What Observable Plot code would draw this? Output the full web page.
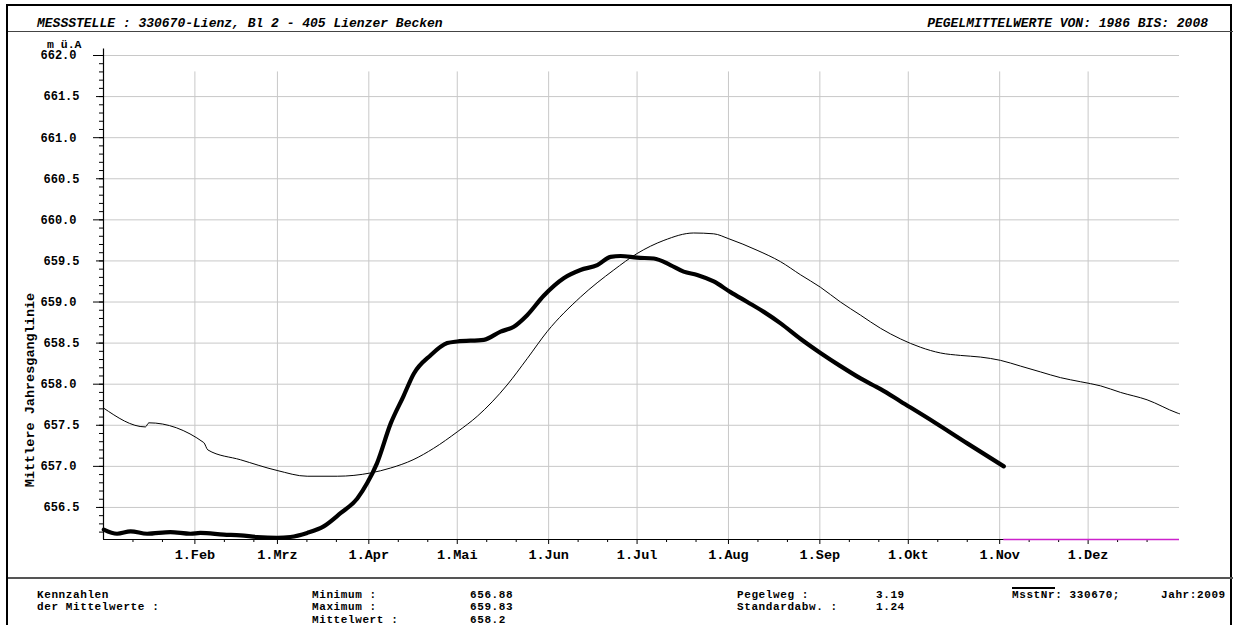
<!DOCTYPE html>
<html>
<head>
<meta charset="utf-8">
<script src="https://cdn.jsdelivr.net/npm/d3@7"></script>
<script src="https://cdn.jsdelivr.net/npm/@observablehq/plot@0.6"></script>
<style>
  html, body { margin: 0; padding: 0; background: #fff; }
  body { width: 1244px; height: 625px; position: relative; overflow: hidden;
         font-family: "Liberation Mono", "Courier New", monospace; font-weight: bold; color: #000; }
  .abs { position: absolute; white-space: pre; line-height: 1; }
  #frame { position: absolute; left: 6px; top: 4px; width: 1226px; height: 700px; border: 2px solid #000; box-sizing: border-box; }
  .hline { position: absolute; height: 0; border-top: 1px solid #444; }
  #chart { position: absolute; left: 0; top: 0; }
  .hdr { font-style: italic; font-size: 13px; }
  .ftr { font-size: 11px; letter-spacing: 0.6px; line-height: 12.5px; height: 12.5px; }
  #ylab { position: absolute; left: 31px; top: 390px; font-size: 13.5px; transform: translate(-50%, -50%) rotate(-90deg); white-space: pre; line-height: 1; }
</style>
</head>
<body>
<div id="chart"></div>
<div id="frame"></div>
<div class="hline" style="left:8px; top:31px; width:1225px;"></div>
<div class="hline" style="left:8px; top:577px; width:1225px; border-top:2px solid #555;"></div>
<div class="abs hdr" id="h1" style="left:37px; top:17px;"></div>
<div class="abs hdr" id="h2" style="right:36px; top:17px;"></div>
<div class="abs" id="unit" style="left:47px; top:39px; font-size:11.5px;"></div>
<div id="ylab"></div>
<div id="footer"></div>
<script>
// ---------- data ----------
const titleLeft = "MESSSTELLE : 330670-Lienz, Bl 2 - 405 Lienzer Becken";
const titleRight = "PEGELMITTELWERTE VON: 1986 BIS: 2008";
const unitLabel = "m ü.A";
const yLabel = "Mittlere Jahresganglinie";

// x: day of year (0 = 1 Jan)
const monthDays = [0, 31, 59, 90, 120, 151, 181, 212, 243, 273, 304, 334];
const monthLabels = ["1.Jan", "1.Feb", "1.Mrz", "1.Apr", "1.Mai", "1.Jun", "1.Jul", "1.Aug", "1.Sep", "1.Okt", "1.Nov", "1.Dez"];

// mean annual curve 1986-2008 (thin)
const meanDays = [0, 14.2, 15.4, 34.0, 35.4, 46.5, 58.9, 69.1, 79.3, 90.6, 97.4, 105, 112, 120, 126.8, 136.9, 143.7, 150.5, 161.8, 173.1, 181.0, 190.1, 200.2, 207.0, 212.1, 221.7, 229.7, 236.5, 243.2, 250.0, 256.8, 263.6, 270.4, 277.1, 283.9, 290.7, 297.5, 304.3, 311.1, 317.8, 324.6, 331.4, 338.2, 345.0, 354.0, 364.2, 365];
const meanValues = [657.71, 657.48, 657.53, 657.29, 657.20, 657.08, 656.95, 656.88, 656.88, 656.92, 656.98, 657.08, 657.22, 657.42, 657.61, 657.99, 658.31, 658.64, 659.06, 659.39, 659.59, 659.75, 659.84, 659.83, 659.77, 659.63, 659.49, 659.33, 659.18, 659.00, 658.84, 658.68, 658.55, 658.45, 658.38, 658.35, 658.33, 658.29, 658.22, 658.15, 658.08, 658.03, 657.98, 657.90, 657.81, 657.65, 657.64];

// year 2009 (thick)
const yearDays = [0.1, 4.6, 9.2, 14.8, 22.7, 29.5, 32.9, 40.8, 46.5, 52.1, 58.9, 63.4, 69.1, 74.7, 80.4, 86.1, 89.5, 92.8, 97.4, 101.7, 105.3, 110.9, 116.6, 120.0, 129.0, 134.7, 139.2, 143.7, 149.4, 156.1, 161.8, 167.5, 172.0, 175.4, 181.0, 186.7, 192.3, 196.8, 201.4, 207.0, 212.7, 218.4, 224.0, 229.7, 236.5, 243.2, 250.0, 256.8, 263.6, 270.4, 281.7, 293.0, 305.4];
const yearValues = [656.23, 656.18, 656.21, 656.18, 656.20, 656.18, 656.19, 656.17, 656.16, 656.14, 656.13, 656.14, 656.19, 656.27, 656.43, 656.61, 656.80, 657.04, 657.52, 657.85, 658.13, 658.35, 658.50, 658.52, 658.54, 658.64, 658.70, 658.84, 659.08, 659.29, 659.39, 659.45, 659.55, 659.56, 659.54, 659.53, 659.45, 659.37, 659.33, 659.25, 659.12, 659.00, 658.88, 658.74, 658.55, 658.38, 658.22, 658.07, 657.94, 657.79, 657.54, 657.28, 657.00];

// footer statistics
const statLabels1 = ["Minimum :", "Maximum :", "Mittelwert :"];
const statValues1 = ["656.88", "659.83", "658.2"];
const statLabels2 = ["Pegelweg :", "Standardabw. :"];
const statValues2 = ["3.19", "1.24"];
const stationNr = "330670";
const yearLabel = "2009";

// y axis ticks
const yMin = 656.11, yMax = 662.0;
const yHalfTicks = [656.5, 657.5, 658.5, 659.5, 660.5, 661.5];
const yIntTicks = [657, 658, 659, 660, 661, 662];

// ---------- build ----------
const mean = meanDays.map((d, i) => ({day: d, value: meanValues[i]}));
const year = yearDays.map((d, i) => ({day: d, value: yearValues[i]}));
const yMinor = d3.range(6562, 6621, 1).map(v => v / 10);
const xMinor = monthDays.flatMap(d => [d + 10, d + 20]).filter(d => d < 365);
const gridY = yHalfTicks.concat(yIntTicks);
const lastDay = yearDays[yearDays.length - 1];

const font = "'Liberation Mono', 'Courier New', monospace";

const plot = Plot.plot({
  width: 1244,
  height: 625,
  marginLeft: 103,
  marginRight: 65,
  marginTop: 55,
  marginBottom: 86,
  style: {fontFamily: font, fontWeight: "bold", background: "transparent", overflow: "visible"},
  x: {domain: [0, 365], axis: null},
  y: {domain: [yMin, yMax], axis: null},
  marks: [
    Plot.ruleY(gridY, {x1: 0, x2: 365, stroke: "#c8c8c8", strokeWidth: 1}),
    Plot.ruleX(monthDays.slice(1), {y1: 661.8, y2: yMin, stroke: "#c8c8c8", strokeWidth: 1}),
    Plot.axisY({ticks: yMinor, tickSize: 4, tickFormat: () => "", label: null}),
    Plot.axisY({ticks: yHalfTicks, tickSize: 7, tickPadding: 17, tickFormat: d3.format(".1f"), fontSize: 12, label: null}),
    Plot.axisY({ticks: yIntTicks, tickSize: 10, tickPadding: 17, tickFormat: d3.format(".1f"), fontSize: 12, label: null}),
    Plot.axisX({ticks: xMinor, tickSize: 3, tickFormat: () => "", label: null}),
    Plot.axisX({ticks: monthDays.slice(1), tickSize: 5, tickPadding: 5, fontSize: 13.5,
                tickFormat: d => monthLabels[monthDays.indexOf(d)], label: null}),
    Plot.ruleX([0], {y1: yMin, y2: 662.08, stroke: "#000", strokeWidth: 1.2}),
    Plot.ruleY([yMin], {x1: 0, x2: 365, stroke: "#000", strokeWidth: 1.2}),
    Plot.ruleY([yMin], {x1: lastDay, x2: 365, stroke: "#cc22cc", strokeWidth: 1.5}),
    Plot.line(mean, {x: "day", y: "value", stroke: "#000", strokeWidth: 1, curve: "monotone-x"}),
    Plot.line(year, {x: "day", y: "value", stroke: "#000", strokeWidth: 4.2, curve: "monotone-x", strokeLinejoin: "round", strokeLinecap: "round"})
  ]
});
document.getElementById("chart").appendChild(plot);

document.getElementById("h1").textContent = titleLeft;
document.getElementById("h2").textContent = titleRight;
document.getElementById("unit").textContent = unitLabel;
document.getElementById("ylab").textContent = yLabel;

const footer = document.getElementById("footer");
function addText(txt, left, top, extra) {
  const el = document.createElement("div");
  el.className = "abs ftr";
  el.style.left = left + "px";
  el.style.top = top + "px";
  if (extra) Object.assign(el.style, extra);
  el.textContent = txt;
  footer.appendChild(el);
  return el;
}
const rowTop = [588.5, 601, 613.5];
addText("Kennzahlen", 37, rowTop[0]);
addText("der Mittelwerte :", 37, rowTop[1]);
statLabels1.forEach((t, i) => addText(t, 312, rowTop[i]));
statValues1.forEach((t, i) => addText(t, 470, rowTop[i]));
statLabels2.forEach((t, i) => addText(t, 737, rowTop[i]));
statValues2.forEach((t, i) => addText(t, 876, rowTop[i]));
const ms = addText("MsstNr", 1012, rowTop[0], {borderTop: "2px solid #000", height: "auto", top: (rowTop[0] - 2) + "px"});
addText(": " + stationNr + ";", 1012 + ms.getBoundingClientRect().width, rowTop[0]);
addText("Jahr:" + yearLabel, 1161, rowTop[0]);
</script>
</body>
</html>
